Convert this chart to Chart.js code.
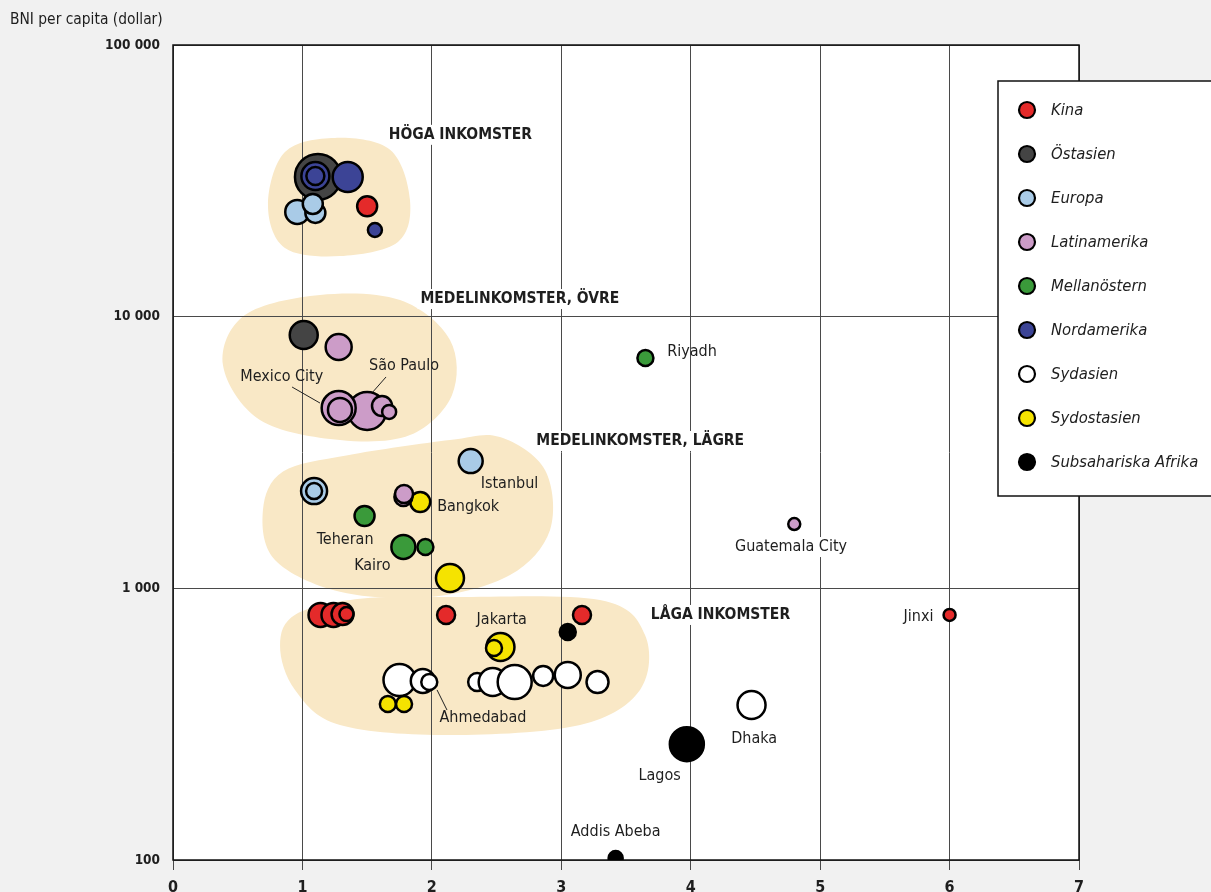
<html>
<head>
<meta charset="utf-8">
<title>BNI per capita och storstäder</title>
<script src="https://cdn.jsdelivr.net/npm/chart.js"></script>
<style>
  body { margin: 0; background: #f1f1f1; }
  #wrap { position: relative; width: 1211px; height: 892px; }
</style>
</head>
<body>
<div id="wrap"><canvas id="chart"></canvas></div>
<script>
// legend order
const regions = ['Kina', 'Östasien', 'Europa', 'Latinamerika', 'Mellanöstern', 'Nordamerika', 'Sydasien', 'Sydostasien', 'Subsahariska Afrika'];
const regionColors = ['#e42a2a', '#444444', '#a9cbe7', '#cc9cc8', '#3a9a3a', '#3c4496', '#ffffff', '#f5e300', '#000000'];
// lower order = painted on top
const regionOrder = [2, 9, 3, 4, 5, 6, 8, 7, 1];

// [x value, BNI per capita (dollar), bubble size]
const kina = [[1.50, 25500, 10], [1.14, 798, 12], [1.24, 798, 12], [1.31, 804, 11], [1.34, 804, 7], [2.11, 798, 9], [3.16, 798, 9], [6.00, 798, 6]];
const ostasien = [[1.12, 32700, 23], [1.01, 8560, 14]];
const europa = [[0.96, 24300, 12], [1.10, 24100, 10], [1.08, 26000, 10], [2.30, 2940, 12], [1.09, 2280, 13], [1.09, 2280, 8]];
const latinamerika = [[1.50, 4500, 19], [1.28, 4610, 17], [1.29, 4535, 12], [1.615, 4690, 10], [1.67, 4460, 7], [1.28, 7730, 13], [1.78, 2170, 9], [1.785, 2225, 9], [4.80, 1725, 6]];
const mellanostern = [[1.48, 1846, 10], [1.78, 1420, 12], [1.95, 1420, 8], [3.65, 7045, 8]];
const nordamerika = [[1.10, 32950, 14], [1.10, 32950, 9], [1.35, 32660, 15], [1.56, 20850, 7]];
const sydasien = [[1.75, 460, 16], [1.93, 456, 12], [1.98, 452, 8], [2.35, 452, 9], [2.47, 452, 14], [2.64, 452, 17], [2.86, 476, 10], [3.05, 480, 13], [3.28, 452, 11], [4.47, 372, 14]];
const sydostasien = [[1.91, 2078, 10], [2.14, 1092, 14], [2.53, 608, 14], [2.48, 603, 8], [1.66, 375, 8], [1.785, 375, 8]];
const subsahara = [[3.05, 691, 8], [3.97, 267, 17], [3.42, 101.7, 7]];
const series = [kina, ostasien, europa, latinamerika, mellanostern, nordamerika, sydasien, sydostasien, subsahara];

const xTicks = [0, 1, 2, 3, 4, 5, 6, 7];
const yTicks = [100, 1000, 10000, 100000];

// income groups: headings and city labels (x value, BNI)
const headings = [
  ['HÖGA INKOMSTER', 2.22, 46700],
  ['MEDELINKOMSTER, ÖVRE', 2.68, 11610],
  ['MEDELINKOMSTER, LÄGRE', 3.61, 3487],
  ['LÅGA INKOMSTER', 4.23, 798]
];
const cities = [
  ['Mexico City', 0.84, 6000, false], ['São Paulo', 1.785, 6583, false], ['Riyadh', 4.01, 7413, false],
  ['Istanbul', 2.60, 2421, false], ['Bangkok', 2.28, 1993, false], ['Guatemala City', 4.775, 1419, true],
  ['Teheran', 1.33, 1507, false], ['Kairo', 1.54, 1208, false], ['Jinxi', 5.76, 784, true],
  ['Jakarta', 2.54, 765, false], ['Ahmedabad', 2.395, 333, false], ['Dhaka', 4.49, 279, true],
  ['Lagos', 3.76, 204, true], ['Addis Abeba', 3.42, 127, true]
];
const leaders = [
  [[0.92, 3.741], [1.136, 3.682]],
  [[1.646, 3.778], [1.537, 3.719]],
  [[2.04, 2.626], [2.117, 2.552]]
];
// background areas, points as [x, log10 BNI]
const blobs = [
  [[0.734, 4.411], [0.865, 4.606], [1.252, 4.658], [1.677, 4.614], [1.831, 4.429], [1.738, 4.275], [1.29, 4.223], [0.865, 4.253]],
  [[0.386, 3.822], [0.556, 4.006], [1.136, 4.080], [1.754, 4.061], [2.14, 3.914], [2.156, 3.712], [1.831, 3.564], [1.29, 3.546], [0.672, 3.62]],
  [[0.695, 3.288], [0.85, 3.43], [1.35, 3.49], [2.14, 3.546], [2.526, 3.557], [2.874, 3.436], [2.913, 3.215], [2.604, 3.049], [1.986, 2.968], [1.29, 2.987], [0.788, 3.104]],
  [[0.827, 2.790], [0.95, 2.905], [1.445, 2.962], [2.14, 2.968], [3.299, 2.957], [3.647, 2.828], [3.608, 2.626], [3.145, 2.497], [2.14, 2.46], [1.29, 2.497], [0.943, 2.626]]
];

const FONT = '"Liberation Sans Narrow", "DejaVu Sans Condensed", sans-serif';
const BLOB = '#f9e8c6';

function fmt(v) {
  return String(v).replace(/\B(?=(\d{3})+(?!\d))/g, ' ');
}

function smooth(ctx, pts) {
  const n = pts.length;
  ctx.beginPath();
  ctx.moveTo(pts[0][0], pts[0][1]);
  for (let i = 0; i < n; i++) {
    const p0 = pts[(i - 1 + n) % n], p1 = pts[i], p2 = pts[(i + 1) % n], p3 = pts[(i + 2) % n];
    ctx.bezierCurveTo(p1[0] + (p2[0] - p0[0]) / 6, p1[1] + (p2[1] - p0[1]) / 6,
                      p2[0] - (p3[0] - p1[0]) / 6, p2[1] - (p3[1] - p1[1]) / 6, p2[0], p2[1]);
  }
  ctx.closePath();
}

function label(ctx, text, x, y, font, bg) {
  ctx.font = font;
  ctx.textAlign = 'center';
  ctx.textBaseline = 'middle';
  if (bg) {
    const w = ctx.measureText(text).width;
    ctx.fillStyle = '#fff';
    ctx.fillRect(x - w / 2 - 3, y - 10, w + 6, 20);
  }
  ctx.fillStyle = '#1e1e1e';
  ctx.fillText(text, x, y);
}

const decorations = {
  id: 'decorations',
  beforeDraw(chart) {
    const { ctx, chartArea: a, scales: { x, y } } = chart;
    ctx.save();
    ctx.fillStyle = '#fff';
    ctx.fillRect(a.left, a.top, a.right - a.left, a.bottom - a.top);
    ctx.fillStyle = BLOB;
    blobs.forEach(b => {
      smooth(ctx, b.map(p => [x.getPixelForValue(p[0]), y.getPixelForValue(Math.pow(10, p[1]))]));
      ctx.fill();
    });
    ctx.restore();
  },
  beforeDatasetsDraw(chart) {
    const { ctx, chartArea: a, scales: { x, y } } = chart;
    ctx.save();
    ctx.strokeStyle = '#111';
    ctx.lineWidth = 1.5;
    ctx.strokeRect(a.left, a.top, a.right - a.left, a.bottom - a.top);
    headings.forEach(h => label(ctx, h[0], x.getPixelForValue(h[1]), y.getPixelForValue(h[2]), 'bold 15.5px ' + FONT, true));
    cities.forEach(c => label(ctx, c[0], x.getPixelForValue(c[1]), y.getPixelForValue(c[2]), '16px ' + FONT, c[3]));
    ctx.strokeStyle = '#222';
    ctx.lineWidth = 1;
    leaders.forEach(l => {
      ctx.beginPath();
      ctx.moveTo(x.getPixelForValue(l[0][0]), y.getPixelForValue(Math.pow(10, l[0][1])));
      ctx.lineTo(x.getPixelForValue(l[1][0]), y.getPixelForValue(Math.pow(10, l[1][1])));
      ctx.stroke();
    });
    ctx.restore();
  },
  afterDraw(chart) {
    const { ctx, chartArea: a } = chart;
    ctx.save();
    // axis title
    ctx.font = '15.4px ' + FONT;
    ctx.fillStyle = '#1e1e1e';
    ctx.textAlign = 'left';
    ctx.textBaseline = 'middle';
    ctx.fillText('BNI per capita (dollar)', 10, a.top - 25);
    // legend box
    const lx = a.right - 81, ly = a.top + 36;
    ctx.fillStyle = '#fff';
    ctx.fillRect(lx, ly, 240, 415);
    ctx.strokeStyle = '#111';
    ctx.lineWidth = 1.5;
    ctx.strokeRect(lx, ly, 240, 415);
    chart.data.datasets.forEach((ds, i) => {
      const cy = ly + 29 + i * 44;
      ctx.beginPath();
      ctx.arc(lx + 29, cy, 8, 0, Math.PI * 2);
      ctx.fillStyle = ds.backgroundColor;
      ctx.fill();
      ctx.lineWidth = 2.2;
      ctx.strokeStyle = '#000';
      ctx.stroke();
      ctx.font = 'italic 16.5px ' + FONT;
      ctx.fillStyle = '#1e1e1e';
      ctx.textAlign = 'left';
      ctx.fillText(ds.label, lx + 53, cy + 1);
    });
    ctx.restore();
  }
};

new Chart(document.getElementById('chart'), {
  type: 'bubble',
  data: {
    datasets: regions.map((name, i) => ({
      label: name,
      order: regionOrder[i],
      data: series[i].map(p => ({ x: p[0], y: p[1], r: p[2] })),
      backgroundColor: regionColors[i],
      borderColor: '#000',
      borderWidth: 2.5,
      hoverBorderWidth: 2.5
    }))
  },
  options: {
    responsive: true,
    maintainAspectRatio: false,
    animation: false,
    layout: { padding: { top: 45, right: 132, left: 0, bottom: 0 } },
    plugins: { legend: { display: false }, tooltip: { enabled: false } },
    scales: {
      x: {
        type: 'linear', min: 0, max: 7,
        afterBuildTicks: s => { s.ticks = xTicks.map(v => ({ value: v })); },
        afterFit: s => { s.height = 32; },
        grid: { color: '#4a4a4a', lineWidth: 1, tickLength: 10 },
        border: { display: false },
        ticks: { color: '#1e1e1e', padding: 8, font: { family: FONT, size: 16, weight: 'bold' } }
      },
      y: {
        type: 'logarithmic', min: 100, max: 100000,
        afterBuildTicks: s => { s.ticks = yTicks.map(v => ({ value: v })); },
        afterFit: s => { s.width = 173; },
        grid: { color: '#4a4a4a', lineWidth: 1, drawTicks: false },
        border: { display: false },
        ticks: { color: '#1e1e1e', padding: 13, font: { family: FONT, size: 13.5, weight: 'bold' }, callback: v => fmt(v) }
      }
    }
  },
  plugins: [decorations]
});
</script>
</body>
</html>
